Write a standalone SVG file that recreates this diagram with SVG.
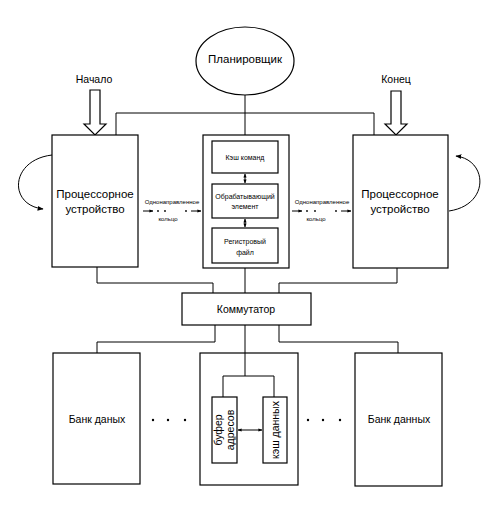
<svg xmlns="http://www.w3.org/2000/svg" width="487" height="510" viewBox="0 0 487 510">
<defs>
<style>
.box{fill:#fff;stroke:#000;stroke-width:1.2}
.ln{fill:none;stroke:#000;stroke-width:1}
.t{font-family:"Liberation Sans",Arial,sans-serif;fill:#000;text-anchor:middle}
.big{font-size:11.5px}
.mid{font-size:10.5px}
.sm{font-size:7px}
.xs{font-size:6px}
</style>
<marker id="ah" viewBox="0 0 10 10" refX="9" refY="5" markerWidth="6" markerHeight="6" orient="auto-start-reverse" markerUnits="userSpaceOnUse">
<path d="M0,1 L10,5 L0,9 Z" fill="#000"/>
</marker>
<marker id="ahs" viewBox="0 0 10 10" refX="9" refY="5" markerWidth="4" markerHeight="4" orient="auto-start-reverse" markerUnits="userSpaceOnUse">
<path d="M0,1 L10,5 L0,9 Z" fill="#000"/>
</marker>
</defs>

<g id="scheduler">
<ellipse class="box" cx="245" cy="61" rx="49" ry="34"/>
<text class="t big" x="245" y="63">Планировщик</text>
</g>

<g id="start">
<text class="t mid" x="94" y="83">Начало</text>
<path class="box" d="M90,90 H100 V124 H106 L95,135 L84,124 H90 Z"/>
</g>
<g id="end">
<text class="t mid" x="396" y="83">Конец</text>
<path class="box" d="M391,91 H401 V124 H407 L396,135 L385,124 H391 Z"/>
</g>

<g id="cpu-left">
<rect class="box" x="52" y="135" width="86" height="132"/>
<text class="t big" x="95" y="198">Процессорное</text>
<text class="t big" x="95" y="213">устройство</text>
</g>

<g id="cpu-mid">
<rect class="box" x="203" y="135" width="86" height="133"/>
</g>
<g id="icache">
<rect class="box" x="212" y="141" width="66" height="32"/>
<text class="t sm" x="245" y="160">Кэш команд</text>
</g>
<g id="pe">
<rect class="box" x="212" y="184" width="66" height="34"/>
<text class="t sm" x="245" y="199">Обрабатывающий</text>
<text class="t sm" x="245" y="209">элемент</text>
</g>
<g id="regfile">
<rect class="box" x="212" y="228" width="66" height="35"/>
<text class="t sm" x="245" y="244">Регистровый</text>
<text class="t sm" x="245" y="255">файл</text>
</g>

<g id="cpu-right">
<rect class="box" x="353" y="135" width="95" height="133"/>
<text class="t big" x="400" y="198">Процессорное</text>
<text class="t big" x="400" y="213">устройство</text>
</g>

<g id="switch">
<rect class="box" x="182" y="293" width="129" height="32"/>
<text class="t mid" x="246" y="313">Коммутатор</text>
</g>

<g id="bank-left">
<rect class="box" x="53" y="353" width="87" height="131"/>
<text class="t mid" x="97" y="423">Банк даных</text>
</g>
<g id="dots-left">
<circle cx="153" cy="420" r="1.2"/><circle cx="168" cy="420" r="1.2"/><circle cx="185" cy="420" r="1.2"/>
</g>

<g id="bank-mid">
<rect class="box" x="200" y="353" width="98" height="132"/>
</g>
<g id="addr-buffer">
<rect class="box" x="212" y="397" width="25" height="66"/>
<text class="t mid" transform="translate(222,430) rotate(-90)" x="0" y="0">буфер</text>
<text class="t mid" transform="translate(234,430) rotate(-90)" x="0" y="0">адресов</text>
</g>
<g id="data-cache">
<rect class="box" x="263" y="397" width="24" height="66"/>
<text class="t mid" transform="translate(279,430) rotate(-90)" x="0" y="0">кэш данных</text>
</g>

<g id="dots-right">
<circle cx="308" cy="420" r="1.2"/><circle cx="323" cy="420" r="1.2"/><circle cx="340" cy="420" r="1.2"/>
</g>
<g id="bank-right">
<rect class="box" x="355" y="353" width="87" height="133"/>
<text class="t mid" x="399" y="423">Банк данных</text>
</g>

<g id="connectors">
<path class="ln" d="M245,95 V113 M116,113 H374 M116,113 V135 M374,113 V135 M245,113 V135"/>
<path class="ln" d="M97,267 V283 H213 V293 M245,268 V293 M397,268 V283 H279 V293"/>
<path class="ln" d="M215,325 V342 H97 V353 M245,325 V376 M279,325 V342 H398 V353"/>
<path class="ln" d="M223,397 V376 H274 V397"/>
<line class="ln" x1="238" y1="430" x2="262" y2="430" marker-start="url(#ahs)" marker-end="url(#ahs)"/>
<line class="ln" x1="245" y1="174" x2="245" y2="183" marker-start="url(#ahs)" marker-end="url(#ahs)"/>
<line class="ln" x1="245" y1="219" x2="245" y2="227" marker-start="url(#ahs)" marker-end="url(#ahs)"/>
<path class="ln" d="M52,155 C10,160 8,205 43,209" marker-end="url(#ah)"/>
<path class="ln" d="M449,211 C490,205 488,160 456,156" marker-end="url(#ah)"/>
<g>
<line class="ln" x1="143" y1="211" x2="153" y2="211" marker-end="url(#ahs)"/>
<circle cx="158" cy="211" r="0.9"/><circle cx="165" cy="211" r="0.9"/><circle cx="186" cy="211" r="0.9"/>
<line class="ln" x1="191" y1="211" x2="201" y2="211" marker-end="url(#ahs)"/>
</g>
<g>
<line class="ln" x1="292" y1="211" x2="302" y2="211" marker-end="url(#ahs)"/>
<circle cx="307" cy="211" r="0.9"/><circle cx="315" cy="211" r="0.9"/><circle cx="336" cy="211" r="0.9"/>
<line class="ln" x1="341" y1="211" x2="351" y2="211" marker-end="url(#ahs)"/>
</g>
<text class="t xs" x="172" y="204">Однонаправленное</text>
<text class="t xs" x="168" y="221">кольцо</text>
<text class="t xs" x="322" y="204">Однонаправленное</text>
<text class="t xs" x="316" y="221">кольцо</text>
</g>
</svg>
